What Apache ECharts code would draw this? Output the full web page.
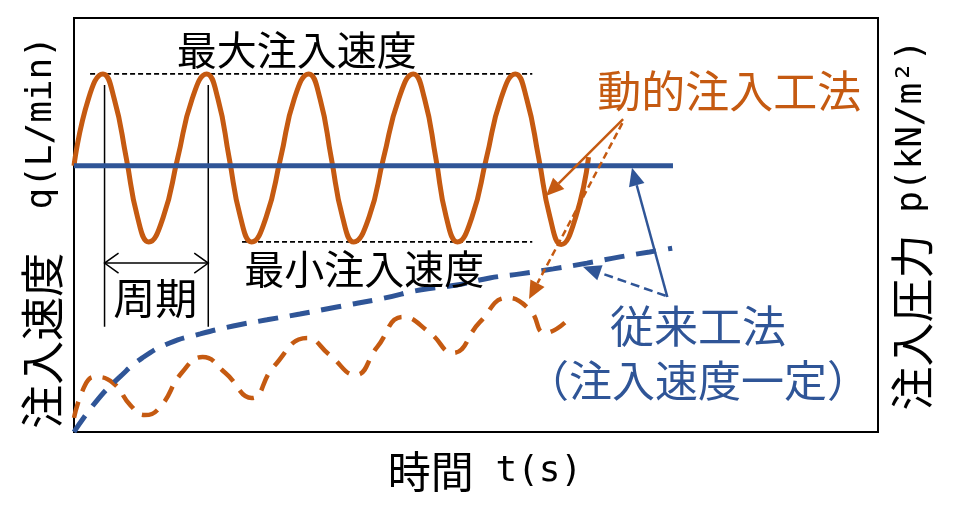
<!DOCTYPE html>
<html>
<head>
<meta charset="UTF-8">
<title>動的注入工法と従来工法</title>
<style>
  html, body { margin: 0; padding: 0; background: #fff; }
  #main { width: 963px; height: 522px; }
</style>
</head>
<body>
<div id="main"></div>
<script src="https://cdn.jsdelivr.net/npm/echarts@6/dist/echarts.min.js"></script>
<script>
// 横軸: 時間 (0-100), 縦軸: 0-100 の無次元スケール（目盛なしの概念図）
// 注入速度 q : 動的注入工法（周期的に変動）
var flowDynamic = [
  [0, 64.3], [1.8, 80.5], [3.6, 86.5],
  [5.0, 80.5], [6.5, 66.2], [7.9, 51.9], [9.3, 45.9],
  [11.1, 51.9], [12.9, 66.2], [14.7, 80.5], [16.5, 86.5],
  [17.9, 80.5], [19.3, 66.2], [20.7, 51.9], [22.1, 45.9],
  [23.9, 51.9], [25.7, 66.2], [27.4, 80.5], [29.2, 86.5],
  [30.6, 80.5], [32.0, 66.2], [33.4, 51.9], [34.8, 45.9],
  [36.7, 51.9], [38.5, 66.2], [40.4, 80.5], [42.2, 86.5],
  [43.6, 80.5], [45.0, 66.2], [46.3, 51.9], [47.7, 45.9],
  [49.5, 51.9], [51.3, 66.2], [53.1, 80.5], [54.9, 86.5],
  [56.3, 80.5], [57.8, 66.2], [59.2, 51.9], [60.6, 45.3],
  [62.4, 51.9], [64.0, 66.4]
];
// 注入速度 q : 従来工法（一定）
var flowConstant = [[0, 64.3], [74.5, 64.3]];
// 注入圧力 p : 動的注入工法
var pressureDynamic = [
  [0, 3.4], [1.4, 11.4], [2.6, 13.3], [4.9, 11.8], [7.0, 6.5],
  [8.8, 4.1], [10.7, 6.0], [13.4, 14.3], [16.0, 18.1], [18.8, 14.3],
  [22.1, 8.2], [24.8, 15.7], [29.0, 22.7], [31.8, 18.6], [35.0, 13.8],
  [37.7, 20.5], [40.9, 27.8], [44.3, 23.9], [47.1, 19.1], [50.5, 26.6],
  [53.9, 32.4], [56.7, 29.5], [58.6, 23.9], [61.9, 28.0]
];
// 注入圧力 p : 従来工法
var pressureConstant = [
  [0, 0], [2.9, 7.7], [5.7, 13.3], [8.5, 17.9], [11.9, 21.5],
  [15.7, 23.7], [19.8, 25.6], [24.0, 27.1], [28.1, 28.5], [32.7, 30.2],
  [38.7, 32.4], [43.0, 34.3], [47.6, 35.5], [51.7, 37.2], [55.5, 38.2],
  [59.6, 39.4], [63.8, 40.8], [67.9, 42.3], [71.6, 43.5], [74.4, 44.4]
];
// 最大・最小注入速度の補助線
var maxRateLine = [[2.0, 86.5], [57.0, 86.5]];
var minRateLine = [[20.9, 45.9], [57.0, 45.9]];
// 周期（ピーク位置）と寸法線の範囲
var periodX = [3.8, 16.7];
var periodY = [25.4, 83.8];
var periodArrowY = 40.8;

var ORANGE = '#C55A11';
var BLUE = '#2F5597';
var FONT = "'Noto Sans CJK JP', 'Noto Sans CJK SC', sans-serif";
var MONO = "'DejaVu Sans Mono', monospace";

var chart = echarts.init(document.getElementById('main'));

function lineSeries(data, color, width, dash, yIndex, smooth, z) {
  return {
    type: 'line',
    data: data,
    yAxisIndex: yIndex,
    smooth: smooth,
    symbol: 'none',
    silent: true,
    z: z,
    lineStyle: { color: color, width: width, type: dash }
  };
}

// 軸名：漢字は Noto Sans CJK、英字部分は等幅で
function axisNameStyle(size, padding) {
  return {
    fontSize: size, color: '#000', fontFamily: FONT, padding: padding,
    rich: {
      m: { fontSize: 36, fontFamily: MONO, color: '#000' }
    }
  };
}

var option = {
  animation: false,
  backgroundColor: '#fff',
  grid: {
    left: 74, right: 85, top: 18, bottom: 90,
    show: true, borderColor: '#000', borderWidth: 2
  },
  xAxis: {
    type: 'value', min: 0, max: 100,
    axisLine: { show: false }, axisTick: { show: false },
    axisLabel: { show: false }, splitLine: { show: false },
    name: '時間{m| t(s)}', nameLocation: 'middle', nameGap: 18,
    nameTextStyle: axisNameStyle(43, [0, 0, 0, 18])
  },
  yAxis: [
    {
      type: 'value', min: 0, max: 100, position: 'left',
      axisLine: { show: false }, axisTick: { show: false },
      axisLabel: { show: false }, splitLine: { show: false },
      name: '注入速度{m|  q(L/min)}', nameLocation: 'middle', nameRotate: 90, nameGap: 10,
      nameTextStyle: axisNameStyle(44, [0, 15, 0, 0])
    },
    {
      type: 'value', min: 0, max: 100, position: 'right',
      axisLine: { show: false }, axisTick: { show: false },
      axisLabel: { show: false }, splitLine: { show: false },
      name: '注入圧力{m| p(kN/m²)}', nameLocation: 'middle', nameRotate: 90, nameGap: 12,
      nameTextStyle: axisNameStyle(44, 0)
    }
  ],
  series: [
    lineSeries(maxRateLine, '#000', 1.8, [5, 3], 0, false, 1),
    lineSeries(minRateLine, '#000', 1.8, [5, 3], 0, false, 1),
    lineSeries([[periodX[0], periodY[0]], [periodX[0], periodY[1]]], '#000', 1.5, 'solid', 0, false, 1),
    lineSeries([[periodX[1], periodY[0]], [periodX[1], periodY[1]]], '#000', 1.5, 'solid', 0, false, 1),
    lineSeries([[periodX[0], periodArrowY], [periodX[1], periodArrowY]], '#000', 1.5, 'solid', 0, false, 1),
    lineSeries(pressureDynamic, ORANGE, 4.5, [17, 11], 1, 0.5, 2),
    lineSeries(pressureConstant, BLUE, 5, [20, 12], 1, 0.5, 3),
    lineSeries(flowDynamic, ORANGE, 5, 'solid', 0, 0.5, 4),
    lineSeries(flowConstant, BLUE, 5, 'solid', 0, false, 5)
  ]
};
chart.setOption(option);

// 注記（文字と矢印）はデータ座標で指定し、軸のスケールで画面座標へ変換する
var notes = [
  { text: '最大注入速度', at: [27.7, 92.3], color: '#000', size: 40 },
  { text: '最小注入速度', at: [36.1, 39.4], color: '#000', size: 40 },
  { text: '周期', at: [10.1, 32.4], color: '#000', size: 42 },
  { text: '動的注入工法', at: [81.5, 82.4], color: ORANGE, size: 44 },
  { text: '従来工法', at: [77.6, 25.6], color: BLUE, size: 44 },
  { text: '（注入速度一定）', at: [77.6, 12.3], color: BLUE, size: 43 }
];
var arrows = [
  { from: [68.3, 75.6], to: [58.7, 57.0], color: ORANGE, dash: 'solid' },
  { from: [68.2, 74.6], to: [56.6, 32.1], color: ORANGE, dash: [7, 4] },
  { from: [73.8, 32.6], to: [69.4, 63.8], color: BLUE, dash: 'solid' },
  { from: [73.6, 32.9], to: [63.3, 39.9], color: BLUE, dash: [9, 5] }
];

function px(p) {
  return chart.convertToPixel({ xAxisIndex: 0, yAxisIndex: 0 }, p);
}

var graphics = [];
notes.forEach(function (n) {
  var p = px(n.at);
  graphics.push({
    type: 'text', x: p[0], y: p[1], silent: true, z: 10,
    style: {
      text: n.text, fill: n.color, fontSize: n.size, fontFamily: FONT,
      textAlign: 'center', textVerticalAlign: 'middle',
      align: 'center', verticalAlign: 'middle'
    }
  });
});

arrows.forEach(function (a) {
  var p0 = px(a.from), p1 = px(a.to);
  var dx = p1[0] - p0[0], dy = p1[1] - p0[1];
  var len = Math.sqrt(dx * dx + dy * dy);
  var ux = dx / len, uy = dy / len;
  var head = 18, half = 8;
  var bx = p1[0] - ux * head, by = p1[1] - uy * head;
  graphics.push({
    type: 'line', silent: true, z: 9,
    shape: { x1: p0[0], y1: p0[1], x2: bx, y2: by },
    style: { stroke: a.color, lineWidth: 2.5, lineDash: a.dash === 'solid' ? null : a.dash }
  });
  graphics.push({
    type: 'polygon', silent: true, z: 9,
    shape: { points: [[p1[0], p1[1]], [bx - uy * half, by + ux * half], [bx + uy * half, by - ux * half]] },
    style: { fill: a.color }
  });
});

// 周期の寸法線の矢じり（開いた形）
[[periodX[0], 1], [periodX[1], -1]].forEach(function (e) {
  var tip = px([e[0], periodArrowY]);
  var d = e[1];
  graphics.push({
    type: 'polyline', silent: true, z: 9,
    shape: { points: [[tip[0] + d * 14, tip[1] - 10], tip, [tip[0] + d * 14, tip[1] + 10]] },
    style: { stroke: '#000', lineWidth: 1.5, fill: null }
  });
});

chart.setOption({ graphic: graphics });
</script>
</body>
</html>
